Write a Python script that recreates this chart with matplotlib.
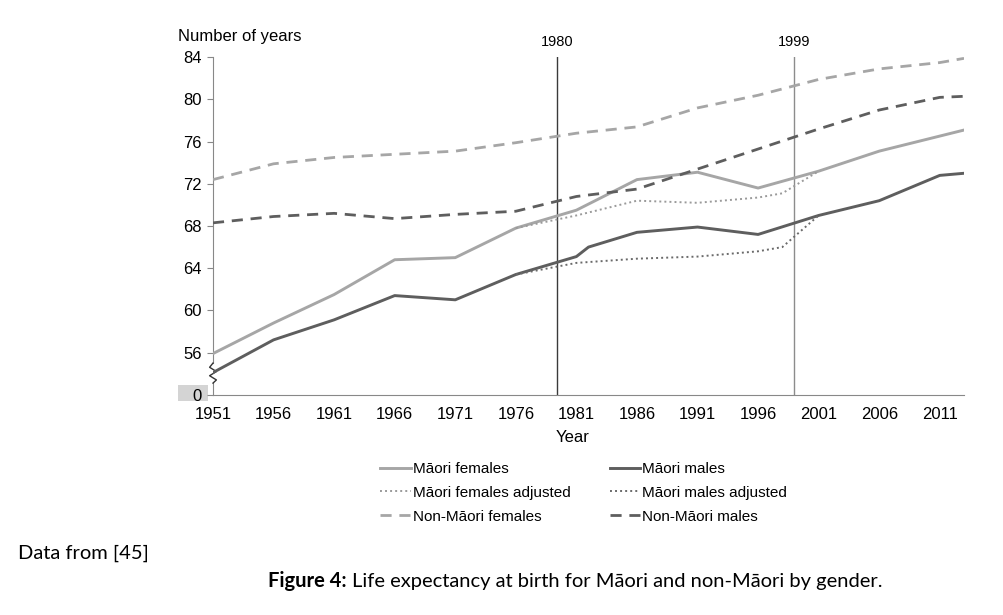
import numpy as np
import matplotlib
matplotlib.use("Agg")
import matplotlib.pyplot as plt

# Datos (esperanza de vida al nacer)
years_mf = [1951, 1956, 1961, 1966, 1971, 1976, 1981, 1986, 1991, 1996, 2001, 2006, 2013]
maori_f = [55.9, 58.8, 61.5, 64.8, 65.0, 67.8, 69.5, 72.4, 73.1, 71.6, 73.2, 75.1, 77.1]

years_mm = [1951, 1956, 1961, 1966, 1971, 1976, 1981, 1982, 1986, 1991, 1996, 2001, 2006, 2011, 2013]
maori_m = [54.1, 57.2, 59.1, 61.4, 61.0, 63.4, 65.1, 66.0, 67.4, 67.9, 67.2, 69.0, 70.4, 72.8, 73.0]

years_fa = [1976, 1981, 1986, 1991, 1996, 1998, 2001]
maori_f_adj = [67.8, 69.0, 70.4, 70.2, 70.7, 71.1, 73.2]

years_ma = [1976, 1981, 1986, 1991, 1996, 1998, 2001]
maori_m_adj = [63.4, 64.5, 64.9, 65.1, 65.6, 66.0, 69.0]

years_nm = [1951, 1956, 1961, 1966, 1971, 1976, 1981, 1986, 1991, 1996, 2001, 2006, 2011, 2013]
nonmaori_f = [72.4, 73.9, 74.5, 74.8, 75.1, 75.9, 76.8, 77.4, 79.2, 80.4, 81.9, 82.9, 83.5, 83.9]
nonmaori_m = [68.3, 68.9, 69.2, 68.7, 69.1, 69.4, 70.8, 71.5, 73.4, 75.3, 77.2, 79.0, 80.2, 80.3]

xticks = list(range(1951, 2012, 5))
yticks = [52, 56, 60, 64, 68, 72, 76, 80, 84]
ytick_labels = ["0", "56", "60", "64", "68", "72", "76", "80", "84"]
markers = [(1979.4, "1980", "#3a3a3a"), (1999.0, "1999", "#8c8c8c")]

light = "#a6a6a6"
dark = "#5e5e5e"

plt.rcParams["font.family"] = ["Liberation Sans", "DejaVu Sans"]

fig = plt.figure(figsize=(10.04, 6.15), dpi=100)
ax = fig.add_axes([213 / 1004, 1 - 394.7 / 615, (964 - 213) / 1004, (394.7 - 57.3) / 615])

ax.plot(years_mf, maori_f, color=light, lw=2.1, label="Māori females")
ax.plot(years_fa, maori_f_adj, color="#9a9a9a", lw=1.4, dashes=(1, 1.6), label="Māori females adjusted")
ax.plot(years_nm, nonmaori_f, color=light, lw=2.0, dashes=(4, 2.8), label="Non-Māori females")
ax.plot(years_mm, maori_m, color=dark, lw=2.1, label="Māori males")
ax.plot(years_ma, maori_m_adj, color="#6a6a6a", lw=1.4, dashes=(1, 1.6), label="Māori males adjusted")
ax.plot(years_nm, nonmaori_m, color=dark, lw=2.0, dashes=(4, 2.8), label="Non-Māori males")

for xv, lab, col in markers:
    ax.plot([xv, xv], [52, 84], color=col, lw=1.0, zorder=1)
    ax.text(xv, 85.45, lab, ha="center", va="center", fontsize=10.5, clip_on=False)

ax.set_xlim(1951, 2013)
ax.set_ylim(52, 84)
ax.set_xticks(xticks)
ax.set_xticklabels([str(v) for v in xticks], fontsize=12)
ax.set_yticks(yticks)
ax.set_yticklabels(ytick_labels, fontsize=12)
ax.tick_params(axis="x", length=0, pad=9)
ax.tick_params(axis="y", length=4, width=0.8, color="#888888", pad=4)

for s in ["top", "right", "left"]:
    ax.spines[s].set_visible(False)
ax.spines["bottom"].set_color("#888888")

# eje y con corte (zigzag)
ax.plot([1951, 1951], [55.0, 84], color="#888888", lw=0.8, clip_on=False, zorder=0)
ax.plot([1951, 1951], [52, 53.1], color="#888888", lw=0.8, clip_on=False, zorder=0)
zx = [1951, 1950.72, 1951.28, 1950.72, 1951.28, 1951]
zy = [55.0, 54.6, 54.2, 53.8, 53.4, 53.1]
ax.plot(zx, zy, color="#333333", lw=1.0, clip_on=False, zorder=0)

# caja gris del 0
fig.patches.append(plt.Rectangle((178 / 1004, 1 - 401 / 615), 30 / 1004, 16 / 615,
                                 transform=fig.transFigure, facecolor="#d4d4d4",
                                 edgecolor="none", zorder=-1))

fig.text(178 / 1004, 1 - 36 / 615, "Number of years", fontsize=12, va="center")
fig.text(573 / 1004, 1 - 437 / 615, "Year", fontsize=12, ha="center", va="center")

h, l = ax.get_legend_handles_labels()
fig.legend(h, l, ncol=2, loc="upper left", bbox_to_anchor=(380 / 1004, 1 - 462 / 615),
           frameon=False, fontsize=11, handlelength=2.0, handletextpad=0.15,
           columnspacing=2.55, labelspacing=0.64, borderpad=0, borderaxespad=0)

fig.text(18 / 1004, 1 - 553 / 615, "Data from [45]", fontsize=14.5, va="center",
         family=["Lato", "DejaVu Sans"])

r = fig.canvas.get_renderer()
t1 = fig.text(268 / 1004, 1 - 581 / 615, "Figure 4:", fontsize=14.5, fontweight="bold",
              va="center", family=["Lato", "DejaVu Sans"])
bb = t1.get_window_extent(renderer=r)
fig.text((bb.x1 + 5) / 1004, 1 - 581 / 615,
         "Life expectancy at birth for Māori and non-Māori by gender.",
         fontsize=14.5, va="center", family=["Lato", "DejaVu Sans"])

plt.savefig("out.png", dpi=100)
